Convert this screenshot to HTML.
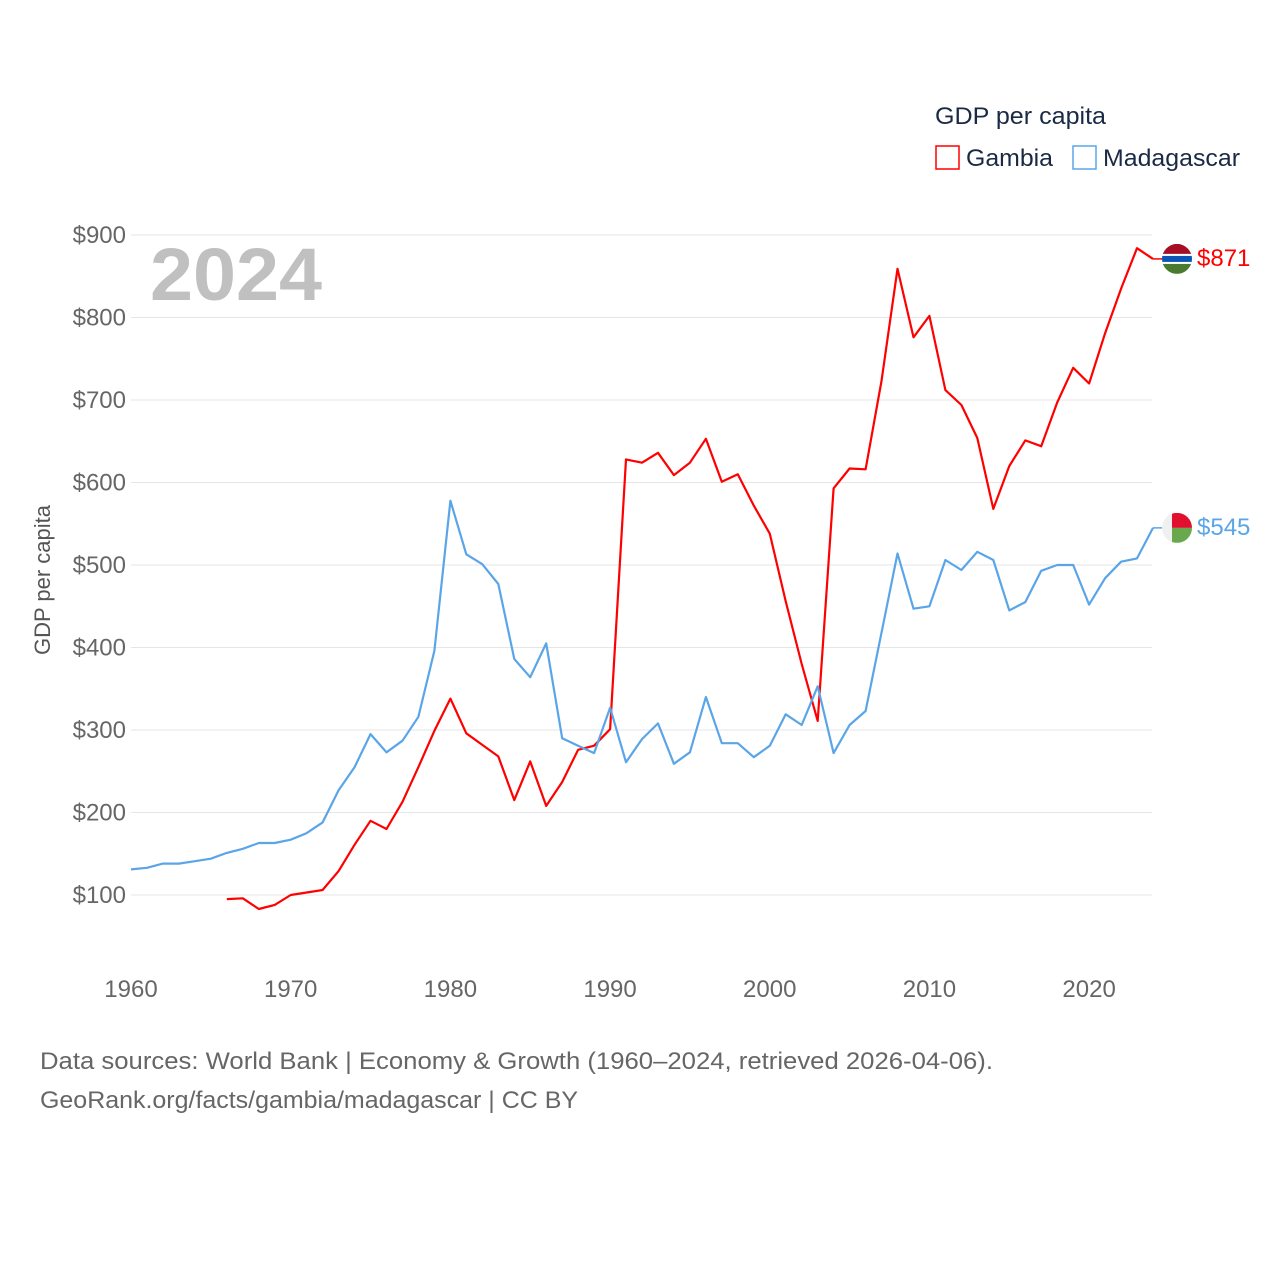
<!DOCTYPE html>
<html><head><meta charset="utf-8"><style>
body{margin:0;background:#fff;}
svg text{font-family:"Liberation Sans",sans-serif;}
</style></head><body>
<svg id="chart" width="1280" height="1280" xmlns="http://www.w3.org/2000/svg">
<rect width="1280" height="1280" fill="#fff"/>
<g id="grid"></g>
<g id="ylabels"></g>
<g id="xlabels"></g>
<text x="150" y="300" font-size="74" font-weight="bold" fill="#c0c0c0" textLength="172" lengthAdjust="spacingAndGlyphs">2024</text>
<text transform="translate(50,580) rotate(-90)" text-anchor="middle" font-size="22" fill="#555">GDP per capita</text>
<g id="series"></g>
<text x="935" y="124" font-size="24" fill="#1a2a44" textLength="171" lengthAdjust="spacingAndGlyphs">GDP per capita</text>
<g>
<rect x="936" y="146" width="23" height="23" fill="none" stroke="#ff0000" stroke-width="1.5"/>
<text x="966" y="166" font-size="24" fill="#1a2a44" textLength="87" lengthAdjust="spacingAndGlyphs">Gambia</text></g>
<g>
<rect x="1073" y="146" width="23" height="23" fill="none" stroke="#5aa5e8" stroke-width="1.5"/>
<text x="1103" y="166" font-size="24" fill="#1a2a44" textLength="137" lengthAdjust="spacingAndGlyphs">Madagascar</text></g>
<text x="40" y="1069" font-size="24" fill="#666" textLength="953" lengthAdjust="spacingAndGlyphs">Data sources: World Bank | Economy &amp; Growth (1960–2024, retrieved 2026-04-06).</text>
<text x="40" y="1108" font-size="24" fill="#666" textLength="538" lengthAdjust="spacingAndGlyphs">GeoRank.org/facts/gambia/madagascar | CC BY</text>
</svg>
<script>
const yTicks=[100,200,300,400,500,600,700,800,900];
const xTicks=[1960,1970,1980,1990,2000,2010,2020];
const madYears=[];for(let y=1960;y<=2024;y++)madYears.push(y);
const madagascar=[131,133,138,138,141,144,151,156,163,163,167,175,188,227,255,295,273,287,316,396,578,513,501,477,386,364,405,290,281,272,327,261,289,308,259,273,340,284,284,267,281,319,306,353,272,306,323,418,514,447,450,506,494,516,506,445,455,493,500,500,452,484,504,508,545];
const gamYears=[];for(let y=1966;y<=2024;y++)gamYears.push(y);
const gambia=[95,96,83,88,100,103,106,129,161,190,180,213,255,299,338,296,282,268,215,262,208,237,276,281,301,628,624,636,609,624,653,601,610,572,538,456,380,311,593,617,616,723,859,776,802,712,694,654,568,620,651,644,697,739,720,781,835,884,871];
const X=yr=>131+(yr-1960)*(1022/64);
const Y=v=>895-(v-100)*0.825;
const NS='http://www.w3.org/2000/svg';
function mk(t,a,p){const e=document.createElementNS(NS,t);for(const k in a)e.setAttribute(k,a[k]);p.appendChild(e);return e;}
const grid=document.getElementById('grid'),yl=document.getElementById('ylabels'),xl=document.getElementById('xlabels'),ser=document.getElementById('series');
yTicks.forEach(v=>{
 const l=mk('line',{x1:131,x2:1152,y1:Y(v),y2:Y(v),stroke:'#e6e6e6','stroke-width':1},grid);
 
 
 const t=mk('text',{x:126,y:Y(v)+8,'text-anchor':'end','font-size':24,fill:'#666'},yl);t.textContent='$'+v;
 
 
});
xTicks.forEach(v=>{
 const t=mk('text',{x:X(v),y:997,'text-anchor':'middle','font-size':24,fill:'#666'},xl);t.textContent=v;
 
 
});
function line(years,vals,color,name){
 const d=years.map((yr,i)=>(i?'L':'M')+X(yr).toFixed(1)+','+Y(vals[i]).toFixed(1)).join('');
 const p=mk('path',{d:d,fill:'none',stroke:color,'stroke-width':2.2,'stroke-linejoin':'round'},ser);
 
 
 const last=vals[vals.length-1],ly=Y(last),lx=X(years[years.length-1]);
 mk('line',{x1:lx,x2:lx+10,y1:ly,y2:ly,stroke:color,'stroke-width':1.5},ser);
 const t=mk('text',{x:1197,y:ly+7,'font-size':24,fill:color},ser);t.textContent='$'+last;
 
 
 return ly;
}
const gy=line(gamYears,gambia,'#ff0000','gambia');
const my=line(madYears,madagascar,'#5aa5e8','madagascar');
const g1=mk('g',{},ser);


const cp1=mk('clipPath',{id:'c1'},g1);mk('circle',{cx:1177,cy:gy,r:15},cp1);
const gg=mk('g',{'clip-path':'url(#c1)'},g1);
mk('rect',{x:1162,y:gy-15,width:30,height:10,fill:'#a50e24'},gg);
mk('rect',{x:1162,y:gy-5,width:30,height:10,fill:'#fff'},gg);
mk('rect',{x:1162,y:gy-3,width:30,height:6,fill:'#0b56b5'},gg);
mk('rect',{x:1162,y:gy+5,width:30,height:10,fill:'#4a7a30'},gg);
const g2=mk('g',{},ser);


const cp=mk('clipPath',{id:'c2'},g2);mk('circle',{cx:1177,cy:my,r:15},cp);
const mg=mk('g',{'clip-path':'url(#c2)'},g2);
mk('rect',{x:1162,y:my-15,width:30,height:30,fill:'#f0f0f0'},mg);
mk('rect',{x:1172,y:my-15,width:20,height:15,fill:'#e0102e'},mg);
mk('rect',{x:1172,y:my,width:20,height:15,fill:'#6aa84f'},mg);
</script>
</body></html>
